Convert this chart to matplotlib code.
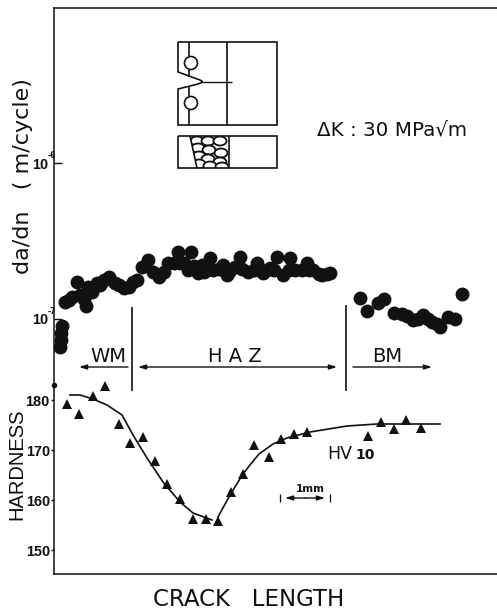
import matplotlib
matplotlib.use("Agg")
import matplotlib.pyplot as plt
from matplotlib.patches import Circle, Ellipse, Polygon

INK = "#111111"

# crack length in mm from the left axis, rate in units of 1e-7 m/cycle
rate_x = [0.12, 0.14, 0.14, 0.16, 0.22, 0.30, 0.36, 0.46, 0.52, 0.60, 0.64, 0.68, 0.76, 0.86, 0.92, 1.00,
          1.10, 1.22, 1.30, 1.40, 1.50, 1.58, 1.66, 1.76, 1.88, 1.98, 2.10, 2.20, 2.28, 2.40, 2.48, 2.52,
          2.60, 2.68, 2.74, 2.80, 2.88, 2.96, 3.00, 3.12, 3.18, 3.30, 3.38, 3.46, 3.50, 3.62, 3.72, 3.75,
          3.88, 4.00, 4.06, 4.18, 4.25, 4.32, 4.40, 4.46, 4.58, 4.70, 4.72, 4.82, 4.95, 5.06, 5.10, 5.18,
          5.30, 5.36, 5.45, 5.52,
          6.12, 6.26, 6.48, 6.60, 6.80, 6.96, 7.05, 7.18, 7.27, 7.38, 7.47, 7.56, 7.65, 7.72, 7.88, 8.02, 8.16]
rate_y = [0.66, 0.73, 0.81, 0.90, 1.29, 1.33, 1.38, 1.73, 1.43, 1.35, 1.21, 1.60, 1.50, 1.70, 1.65, 1.78,
          1.86, 1.70, 1.65, 1.58, 1.60, 1.73, 1.78, 2.15, 2.39, 2.00, 1.86, 2.00, 2.28, 2.30, 2.69, 2.28,
          2.30, 2.06, 2.69, 2.20, 1.97, 2.22, 2.00, 2.46, 2.06, 2.10, 2.22, 1.92, 2.00, 2.15, 2.50, 2.10,
          2.00, 2.05, 2.28, 1.97, 2.05, 2.12, 2.05, 2.50, 1.92, 2.05, 2.46, 2.06, 2.05, 2.28, 2.05, 2.06,
          1.95, 1.92, 1.95, 1.97,
          1.36, 1.13, 1.27, 1.34, 1.09, 1.08, 1.05, 0.985, 1.00, 1.06, 1.00, 0.957, 0.93, 0.889, 1.03, 1.00, 1.45]

hv_x = [0.26, 0.50, 0.78, 1.02, 1.30, 1.52, 1.78, 2.02, 2.26, 2.52, 2.78, 3.04, 3.28,
        3.54, 3.78, 4.00, 4.30, 4.54, 4.80, 5.06, 6.28, 6.54, 6.80, 7.04, 7.34]
hv_y = [179.2, 177.2, 180.8, 182.8, 175.2, 171.4, 172.6, 167.8, 163.2, 160.2, 156.2, 156.2, 155.8,
        161.6, 165.2, 171.0, 168.6, 172.2, 173.2, 173.6, 172.8, 175.6, 174.2, 176.0, 174.4]

# fitted curve, it has a break at the minimum
fit_left_x = [0.32, 0.52, 0.78, 1.06, 1.36, 1.58, 1.86, 2.18, 2.52, 2.78, 3.16]
fit_left_y = [181.0, 181.0, 180.2, 179.0, 177.0, 173.0, 168.4, 163.6, 159.6, 157.4, 156.0]
fit_right_x = [3.28, 3.52, 3.78, 3.92, 4.10, 4.38, 4.66, 5.12, 5.86, 6.46, 7.72]
fit_right_y = [156.6, 161.0, 165.2, 167.0, 169.2, 171.2, 172.4, 173.6, 174.8, 175.2, 175.2]

hv_ticks = [150, 160, 170, 180]
rate_ticks = [1e-7, 1e-6]
rate_tick_labels = ["10", "10"]

W, H = 497, 612
fig = plt.figure(figsize=(W / 100, H / 100), dpi=100)
rect = [54 / W, 1 - 574 / H, (W - 54) / W, (574 - 8) / H]

# hardness axes
ax = fig.add_axes(rect)
ax.set_xlim(0, (W - 54) / 50)
ax.set_ylim(145.2, 258.4)
ax.plot(fit_left_x, fit_left_y, color=INK, lw=1.2)
ax.plot(fit_right_x, fit_right_y, color=INK, lw=1.2)
ax.plot(hv_x, hv_y, ls="none", marker="^", ms=7.5, color=INK, mew=0)
ax.plot([0], [183.0], ls="none", marker="o", ms=4, color=INK, mew=0, clip_on=False)
ax.set_xticks([])
ax.set_yticks(hv_ticks)
ax.set_yticklabels([str(t) for t in hv_ticks], fontsize=10.4, fontweight="bold",
                   family="Liberation Sans", color=INK)
ax.tick_params(axis="y", length=2, width=1, pad=1, color=INK)
ax.spines["right"].set_visible(False)
for s in ["left", "top", "bottom"]:
    ax.spines[s].set_linewidth(1.1)
    ax.spines[s].set_color(INK)

# crack growth rate axes, same frame
ax2 = fig.add_axes(rect, sharex=ax)
ax2.patch.set_alpha(0)
ax2.set_yscale("log")
ax2.set_ylim(10 ** -8.635, 10 ** -5.006)
ax2.scatter(rate_x, [r * 1e-7 for r in rate_y], s=100, color=INK, linewidths=0, zorder=3)
ax2.set_yticks(rate_ticks)
ax2.set_yticklabels(rate_tick_labels, fontsize=10.4, fontweight="bold",
                    family="Liberation Sans", color=INK)
ax2.minorticks_off()
ax2.tick_params(axis="y", direction="in", length=6, width=1, pad=4, color=INK)
ax2.tick_params(axis="x", bottom=False, labelbottom=False)
for s in ax2.spines.values():
    s.set_visible(False)

# overlay in image pixels for the labels and the specimen sketch
ov = fig.add_axes([0, 0, 1, 1])
ov.set_xlim(0, W)
ov.set_ylim(H, 0)
ov.axis("off")
ov.patch.set_alpha(0)


def line(xs, ys, lw=1.2):
    ov.plot(xs, ys, color=INK, lw=lw, solid_capstyle="butt", solid_joinstyle="miter")


def arrow(x0, x1, y, both=False):
    style = "<|-|>" if both else "-|>"
    ov.annotate("", xy=(x1, y), xytext=(x0, y),
                arrowprops=dict(arrowstyle=style + ",head_length=0.45,head_width=0.14",
                                color=INK, lw=1.0, shrinkA=0, shrinkB=0))


def label(x, y, s, size, **kw):
    ov.text(x, y, s, fontsize=size, color=INK, ha="center", va="center", **kw)


# exponents of the rate tick labels
label(52, 155, "-6", 5.5, fontweight="bold")
label(52, 312, "-7", 5.5, fontweight="bold")

# region markers
line([132, 132], [307, 391])
line([346, 346], [305, 391])
arrow(128, 79, 367)
arrow(138, 337, 367, both=True)
arrow(353, 432, 367)
label(108, 357, "WM", 14)
label(235, 357, "H A Z", 14)
label(387, 357, "BM", 14)

# axis titles
label(249, 599, "CRACK   LENGTH", 16.5)
label(17, 464, "HARDNESS", 14.5, rotation=90, family="Liberation Sans")
label(23, 176, "da/dn   ( m/cycle)", 16, rotation=90)

# annotations
label(392, 130, "ΔK : 30 MPa√m", 14.3)
label(340, 454, "HV", 12.5)
label(365, 455, "10", 10, fontweight="bold")
label(310, 489, "1mm", 7.5, fontweight="bold")
line([280, 280], [494, 502], lw=0.9)
line([330, 330], [494, 502], lw=0.9)
arrow(305, 285, 498)
arrow(305, 325, 498)

# specimen sketch
line([178, 277, 277, 178, 178, 198, 203, 200, 178, 178],
     [42, 42, 125, 125, 89, 84, 82, 80, 72, 42])
line([227, 227], [42, 125])
line([203, 232], [82, 82], lw=1.0)
line([189, 189], [42, 56])
line([189, 189], [70, 77])
line([189, 189], [87, 96])
line([189, 189], [110, 125])
ov.add_patch(Circle((191, 63), 6.5, fc="white", ec=INK, lw=1.2))
ov.add_patch(Circle((191, 103), 6.5, fc="white", ec=INK, lw=1.2))

line([178, 277, 277, 178, 178], [136, 136, 168, 168, 136])
beads = [(197, 141), (208, 141), (220, 141), (198, 148), (209, 150), (221, 153),
         (199, 156), (208, 159), (220, 162), (199, 164), (210, 166), (222, 167)]
weld = Polygon([(190, 136), (229, 136), (229, 168), (197, 168)], fc="none", ec="none")
ov.add_patch(weld)
for bx, by in beads:
    bead = Ellipse((bx, by), 13, 9, fc="white", ec=INK, lw=1.3)
    ov.add_patch(bead)
    bead.set_clip_path(weld)
line([229, 229], [136, 168])
line([190, 197], [136, 168])

fig.savefig("out.png", dpi=100)
